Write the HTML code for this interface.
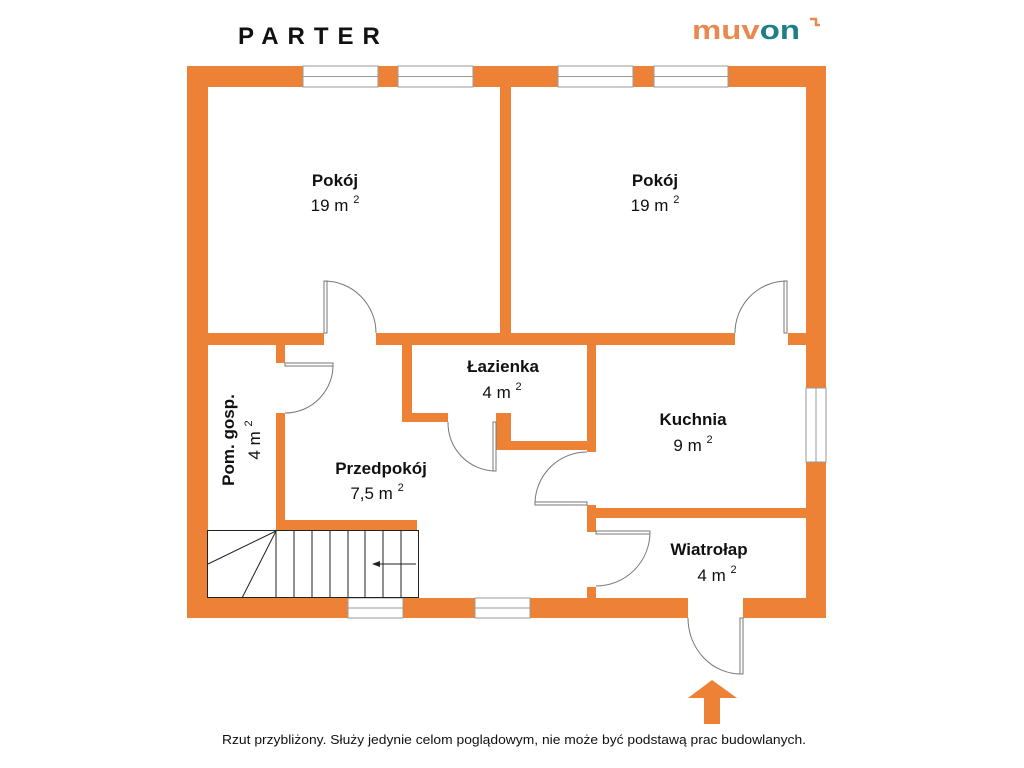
<!DOCTYPE html>
<html><head><meta charset="utf-8"><style>
html,body{margin:0;padding:0;background:#fff;width:1024px;height:768px;overflow:hidden}
svg{display:block}
text{font-family:"Liberation Sans","DejaVu Sans",sans-serif;fill:#111}
.b{font-weight:bold;font-size:17px}
.n{font-size:17px}
.s{font-size:11px}
</style></head><body>
<svg width="1024" height="768" viewBox="0 0 1024 768" xmlns="http://www.w3.org/2000/svg">
<g fill="#ED8236">
<rect x="187" y="66" width="639" height="21"/>
<rect x="187" y="598" width="639" height="20"/>
<rect x="187" y="66" width="21" height="552"/>
<rect x="806" y="66" width="20" height="552"/>
<rect x="500" y="87" width="11" height="247"/>
<rect x="208" y="333" width="116" height="12"/>
<rect x="376" y="333" width="359" height="12"/>
<rect x="788" y="333" width="18" height="12"/>
<rect x="276" y="345" width="9" height="18"/>
<rect x="276" y="413" width="9" height="117"/>
<rect x="276" y="520" width="141" height="10"/>
<rect x="402" y="345" width="10" height="77"/>
<rect x="402" y="413" width="46" height="9"/>
<rect x="496" y="413" width="15" height="36"/>
<rect x="496" y="441" width="100" height="9"/>
<rect x="587" y="345" width="9" height="107"/>
<rect x="587" y="505" width="9" height="27"/>
<rect x="587" y="587" width="9" height="12"/>
<rect x="587" y="508" width="219" height="10"/>
</g>
<g fill="#fff" stroke="#999" stroke-width="1">
<rect x="303" y="66" width="75" height="21"/>
<rect x="398" y="66" width="75" height="21"/>
<rect x="558" y="66" width="75" height="21"/>
<rect x="654" y="66" width="74" height="21"/>
<rect x="348" y="598" width="55" height="20"/>
<rect x="475" y="598" width="55" height="20"/>
<rect x="806" y="388" width="20" height="74"/>
</g>
<g stroke="#999" stroke-width="1">
<line x1="303" y1="76.5" x2="378" y2="76.5"/>
<line x1="398" y1="76.5" x2="473" y2="76.5"/>
<line x1="558" y1="76.5" x2="633" y2="76.5"/>
<line x1="654" y1="76.5" x2="728" y2="76.5"/>
<line x1="348" y1="608" x2="403" y2="608"/>
<line x1="475" y1="608" x2="530" y2="608"/>
<line x1="816" y1="388" x2="816" y2="462"/>
</g>
<rect x="688" y="598" width="55" height="20" fill="#fff"/>
<g fill="none" stroke="#777" stroke-width="1">
<rect x="324" y="281" width="3" height="52" fill="#fff"/>
<path d="M376 333 A52 52 0 0 0 324 281"/>
<rect x="784" y="281" width="3" height="52" fill="#fff"/>
<path d="M735 333 A52 52 0 0 1 787 281"/>
<rect x="285" y="363" width="48" height="3" fill="#fff"/>
<path d="M333 363 A48 48 0 0 1 285 413"/>
<rect x="493" y="422" width="3" height="49" fill="#fff"/>
<path d="M448 422 A48 48 0 0 0 496 471"/>
<rect x="535" y="502" width="52" height="3" fill="#fff"/>
<path d="M535 503 A52 52 0 0 1 587 452"/>
<rect x="596" y="531" width="54" height="3" fill="#fff"/>
<path d="M650 532 A54 54 0 0 1 596 586"/>
<rect x="740" y="618" width="3" height="56" fill="#fff"/>
<path d="M688 618 A53 56 0 0 0 741 674"/>
</g>
<g fill="none" stroke="#222" stroke-width="1">
<rect x="207.5" y="530.5" width="211" height="67"/>
<line x1="276" y1="530" x2="276" y2="598"/>
<line x1="294" y1="530" x2="294" y2="598"/>
<line x1="312" y1="530" x2="312" y2="598"/>
<line x1="330" y1="530" x2="330" y2="598"/>
<line x1="348" y1="530" x2="348" y2="598"/>
<line x1="365" y1="530" x2="365" y2="598"/>
<line x1="383" y1="530" x2="383" y2="598"/>
<line x1="401" y1="530" x2="401" y2="598"/>
<line x1="276" y1="531" x2="208" y2="564"/>
<line x1="276" y1="531" x2="242" y2="598"/>
<line x1="416" y1="564" x2="378" y2="564"/>
</g>
<polygon points="372,564 380,561 380,567" fill="#222"/>
<polygon points="712,680 737,698 720,698 720,724 704,724 704,698 688,698" fill="#ED8236"/>
<text x="335" y="186" class="b" text-anchor="middle">Pokój</text>
<text x="335" y="211" class="n" text-anchor="middle">19 m <tspan class="s" dy="-8">2</tspan></text>
<text x="655" y="186" class="b" text-anchor="middle">Pokój</text>
<text x="655" y="211" class="n" text-anchor="middle">19 m <tspan class="s" dy="-8">2</tspan></text>
<text x="503" y="372" class="b" text-anchor="middle">Łazienka</text>
<text x="502" y="398" class="n" text-anchor="middle">4 m <tspan class="s" dy="-8">2</tspan></text>
<text x="693" y="425" class="b" text-anchor="middle">Kuchnia</text>
<text x="693" y="451" class="n" text-anchor="middle">9 m <tspan class="s" dy="-8">2</tspan></text>
<text x="381" y="474" class="b" text-anchor="middle">Przedpokój</text>
<text x="377" y="499" class="n" text-anchor="middle">7,5 m <tspan class="s" dy="-8">2</tspan></text>
<text x="709" y="555" class="b" text-anchor="middle">Wiatrołap</text>
<text x="717" y="581" class="n" text-anchor="middle">4 m <tspan class="s" dy="-8">2</tspan></text>
<g transform="translate(234,440) rotate(-90)">
<text x="0" y="0" class="b" text-anchor="middle">Pom. gosp.</text>
<text x="0" y="26" class="n" text-anchor="middle">4 m <tspan class="s" dy="-8">2</tspan></text>
</g>
<text x="238" y="44" style="font-weight:bold;font-size:24px;letter-spacing:9px">PARTER</text>
<text x="692" y="39" style="font-weight:bold;font-size:27px;fill:#E8894F" textLength="108" lengthAdjust="spacingAndGlyphs">muv<tspan style="fill:#1E7F86">on</tspan></text>
<path d="M810 19 L816 19 L816 25 L820 25" fill="none" stroke="#E8894F" stroke-width="2.5"/>
<text x="222" y="744" style="font-size:13px" textLength="584" lengthAdjust="spacingAndGlyphs">Rzut przybliżony. Służy jedynie celom poglądowym, nie może być podstawą prac budowlanych.</text>
</svg>
</body></html>
